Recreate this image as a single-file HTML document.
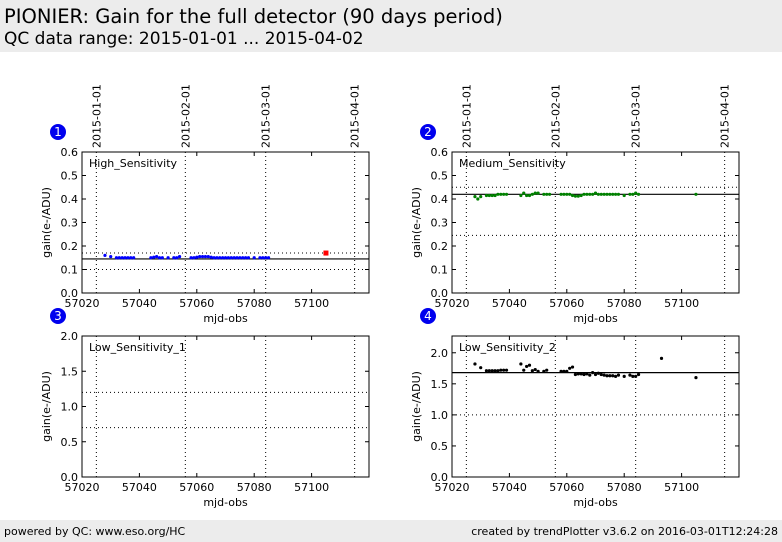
<!DOCTYPE html>
<html><head><meta charset="utf-8"><style>
body{margin:0;width:782px;height:542px;background:#fff;font-family:"DejaVu Sans","Liberation Sans",sans-serif;overflow:hidden;position:relative}
#hdr{position:absolute;left:0;top:0;width:782px;height:52px;background:#ececec}
#ftr{position:absolute;left:0;top:520px;width:782px;height:22px;background:#ececec;font-size:11px}
</style></head><body>
<div id="hdr">
<div style="position:absolute;left:4px;top:5px;font-size:19.5px">PIONIER: Gain for the full detector (90 days period)</div>
<div style="position:absolute;left:4px;top:29px;font-size:17px">QC data range: 2015-01-01 ... 2015-04-02</div>
</div>
<div id="ftr">
<span style="position:absolute;left:4px;top:5px">powered by QC: www.eso.org/HC</span>
<span style="position:absolute;right:4px;top:5px">created by trendPlotter v3.6.2 on 2016-03-01T12:24:28</span>
</div>
<svg id="chart" width="782" height="520" style="position:absolute;left:0;top:0" font-family="DejaVu Sans, Liberation Sans, sans-serif"></svg>
<script>
const xTicks=[57020,57040,57060,57080,57100];
const dateLabels=["2015-01-01","2015-02-01","2015-03-01","2015-04-01"];
const dateMjd=[57025,57056,57084,57115];
const hiX=[57028,57030,57032,57033,57034,57035,57036,57037,57038,57044,57045,57046,57047,57048,57050,57052,57053,57054,57058,57059,57060,57061,57062,57063,57064,57065,57066,57067,57068,57069,57070,57071,57072,57073,57074,57075,57076,57077,57078,57080,57082,57083,57084,57085];
const hiY=[0.16,0.155,0.15,0.15,0.15,0.15,0.15,0.15,0.15,0.15,0.152,0.155,0.15,0.15,0.15,0.15,0.15,0.155,0.15,0.15,0.152,0.155,0.155,0.155,0.155,0.152,0.15,0.15,0.15,0.15,0.15,0.15,0.15,0.15,0.15,0.15,0.15,0.15,0.15,0.15,0.15,0.15,0.15,0.15];
const hiOutX=[57105];
const hiOutY=[0.17];
const medX=[57028,57029,57030,57032,57033,57034,57035,57036,57037,57038,57039,57044,57045,57046,57047,57048,57049,57050,57052,57053,57054,57058,57059,57060,57061,57062,57063,57064,57065,57066,57067,57068,57069,57070,57071,57072,57073,57074,57075,57076,57077,57078,57080,57082,57083,57084,57085,57105];
const medY=[0.41,0.40,0.41,0.415,0.415,0.415,0.415,0.42,0.42,0.42,0.42,0.415,0.425,0.415,0.415,0.42,0.425,0.425,0.42,0.42,0.42,0.42,0.42,0.42,0.42,0.415,0.412,0.412,0.415,0.42,0.42,0.42,0.42,0.425,0.42,0.42,0.42,0.42,0.42,0.42,0.42,0.42,0.415,0.42,0.42,0.425,0.42,0.42];
const lowX=[57028,57030,57032,57033,57034,57035,57036,57037,57038,57039,57044,57045,57046,57047,57048,57049,57050,57052,57053,57058,57059,57060,57061,57062,57063,57064,57065,57066,57067,57068,57069,57070,57071,57072,57073,57074,57075,57076,57077,57078,57080,57082,57083,57084,57085,57093,57105];
const lowY=[1.82,1.76,1.71,1.71,1.71,1.71,1.71,1.72,1.72,1.72,1.82,1.72,1.78,1.80,1.71,1.73,1.70,1.70,1.72,1.70,1.70,1.70,1.75,1.77,1.65,1.66,1.66,1.65,1.66,1.64,1.68,1.65,1.67,1.65,1.64,1.63,1.63,1.63,1.62,1.64,1.62,1.64,1.62,1.62,1.65,1.91,1.60];
const panels=[
 {n:"1",name:"High_Sensitivity",x0:82,y0:152,ymax:0.6,yt:[0,0.1,0.2,0.3,0.4,0.5,0.6],dec:1,ref:0.145,lim:[0.17,0.10],series:[[hiX,hiY,"#0000ff",0],[hiOutX,hiOutY,"#ff0000",1]],dates:true},
 {n:"2",name:"Medium_Sensitivity",x0:452,y0:152,ymax:0.6,yt:[0,0.1,0.2,0.3,0.4,0.5,0.6],dec:1,ref:0.42,lim:[0.45,0.245],series:[[medX,medY,"#008000",0]],dates:true},
 {n:"3",name:"Low_Sensitivity_1",x0:82,y0:336,ymax:2.0,yt:[0,0.5,1.0,1.5,2.0],dec:1,ref:null,lim:[1.2,0.7],series:[],dates:false},
 {n:"4",name:"Low_Sensitivity_2",x0:452,y0:336,ymax:2.27,yt:[0,0.5,1.0,1.5,2.0],dec:1,ref:1.68,lim:[1.0],series:[[lowX,lowY,"#000000",0]],dates:false}
];
const W=287,H=141,XMIN=57020,XMAX=57120;
const svg=document.getElementById('chart');
const NS="http://www.w3.org/2000/svg";
function mk(t,a,p){const e=document.createElementNS(NS,t);for(const k in a)e.setAttribute(k,a[k]);(p||svg).appendChild(e);return e;}
panels.forEach(p=>{
 const g=mk('g',{});
 
 
 const sx=v=>p.x0+(v-XMIN)/(XMAX-XMIN)*W;
 const sy=v=>p.y0+H-v/p.ymax*H;
 dateMjd.forEach((d,i)=>{
  const l=mk('line',{x1:sx(d),x2:sx(d),y1:p.y0,y2:p.y0+H,stroke:"#000","stroke-dasharray":"1,3"},g);
  
  
  if(p.dates){
   const t=mk('text',{x:0,y:0,"font-size":11,transform:`translate(${sx(d)+4},${p.y0-4}) rotate(-90)`},g);
   t.textContent=dateLabels[i];
   
   
  }
 });
 p.lim.forEach(v=>{
  const l=mk('line',{x1:p.x0,x2:p.x0+W,y1:sy(v),y2:sy(v),stroke:"#000","stroke-dasharray":"1,3"},g);
  
  
 });
 if(p.ref!==null){
  const l=mk('line',{x1:p.x0,x2:p.x0+W,y1:sy(p.ref),y2:sy(p.ref),stroke:"#000","stroke-width":1.2},g);
  
  
 }
 p.series.forEach(s=>{
  s[0].forEach((x,i)=>{
   let c;
   if(s[3]) c=mk('rect',{x:sx(x)-2.5,y:sy(s[1][i])-2.5,width:5,height:5,fill:s[2]},g);
   else c=mk('circle',{cx:sx(x),cy:sy(s[1][i]),r:1.6,fill:s[2]},g);
   
   
  });
 });
 const fr=mk('rect',{x:p.x0,y:p.y0,width:W,height:H,fill:"none",stroke:"#000"},g);
 
 
 xTicks.forEach(v=>{
  mk('line',{x1:sx(v),x2:sx(v),y1:p.y0+H,y2:p.y0+H-4,stroke:"#000"},g);
  mk('line',{x1:sx(v),x2:sx(v),y1:p.y0,y2:p.y0+4,stroke:"#000"},g);
  const t=mk('text',{x:sx(v),y:p.y0+H+14,"font-size":11,"text-anchor":"middle"},g);
  t.textContent=v;
  
  
 });
 p.yt.forEach(v=>{
  mk('line',{x1:p.x0,x2:p.x0+4,y1:sy(v),y2:sy(v),stroke:"#000"},g);
  mk('line',{x1:p.x0+W,x2:p.x0+W-4,y1:sy(v),y2:sy(v),stroke:"#000"},g);
  const t=mk('text',{x:p.x0-4,y:sy(v)+4,"font-size":11,"text-anchor":"end"},g);
  t.textContent=v.toFixed(p.dec);
  
  
 });
 const xt=mk('text',{x:p.x0+W/2,y:p.y0+H+29,"font-size":11,"text-anchor":"middle"},g);
 xt.textContent="mjd-obs";
 
 
 const yt=mk('text',{x:0,y:0,"font-size":11,"text-anchor":"middle",transform:`translate(${p.x0-32},${p.y0+H/2}) rotate(-90)`},g);
 yt.textContent="gain(e-/ADU)";
 
 
 const nm=mk('text',{x:p.x0+7,y:p.y0+15,"font-size":11},g);
 nm.textContent=p.name;
 
 
 const cx=p.x0-24, cy=p.y0-20;
 const ci=mk('circle',{cx:cx,cy:cy,r:8,fill:"#0000ee"},g);
 
 
 const ct=mk('text',{x:cx,y:cy+4,"font-size":12,fill:"#fff","text-anchor":"middle"},g);
 ct.textContent=p.n;
 
 
});
</script>
</body></html>
